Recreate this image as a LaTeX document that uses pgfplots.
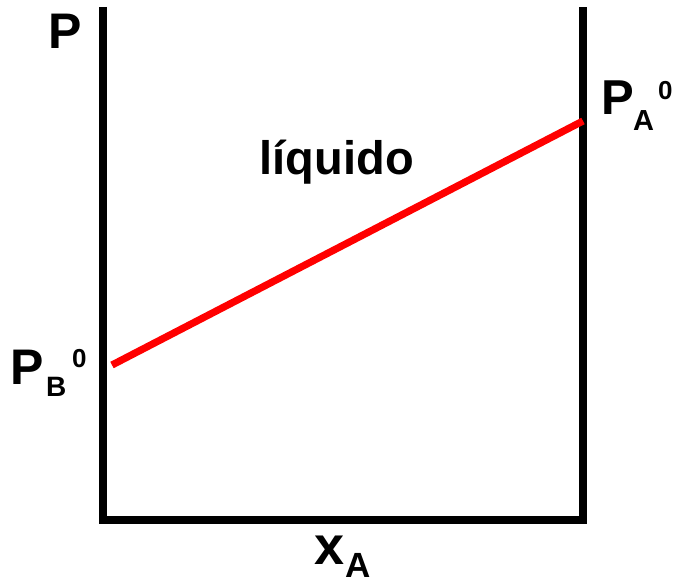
\documentclass[border=0pt]{standalone}
\usepackage{fontspec}
\setmainfont{Liberation Sans}
\usepackage{pgfplots}
\pgfplotsset{compat=1.18}
\begin{document}
\begin{tikzpicture}
\begin{axis}[
  at={(0pt,0pt)}, anchor=origin,
  scale only axis, width=240pt, height=256.5pt,
  xmin=0, xmax=1, ymin=0, ymax=1,
  hide axis, clip=false,
]
\addplot[black, line width=4pt, line join=miter, line cap=butt]
  coordinates {(0,1) (0,0) (1,0) (1,1)};
\addplot[red, line width=3.6pt, line cap=butt]
  coordinates {(0.01875,0.3021) (1,0.7778)};
\end{axis}
\begin{scope}[every node/.style={inner sep=0pt, outer sep=0pt, anchor=base west, font=\bfseries}]
\node[font=\bfseries\fontsize{25}{25}\selectfont] at (-27.4pt,235.5pt) {P};
\node[font=\bfseries\fontsize{25}{25}\selectfont] at (-46.4pt,67.5pt) {P};
\node[font=\bfseries\fontsize{14}{14}\selectfont] at (-28.5pt,61.5pt) {B};
\node[font=\bfseries\fontsize{13}{13}\selectfont] at (-15.5pt,76pt) {0};
\node[font=\bfseries\fontsize{24.5}{24.5}\selectfont] at (249.2pt,202.5pt) {P};
\node[font=\bfseries\fontsize{14.5}{14.5}\selectfont] at (265pt,194.5pt) {A};
\node[font=\bfseries\fontsize{13}{13}\selectfont] at (277.5pt,210pt) {0};
\node[font=\bfseries\fontsize{23.5}{23.5}\selectfont] at (78.4pt,172.5pt) {líquido};
\node[font=\bfseries\fontsize{27}{27}\selectfont] at (105.7pt,-22.5pt) {x};
\node[font=\bfseries\fontsize{17.5}{17.5}\selectfont] at (121pt,-29pt) {A};
\end{scope}
\pgfresetboundingbox
\path[use as bounding box] (-51.5pt,-31pt) rectangle (288pt,260pt);
\end{tikzpicture}
\end{document}
